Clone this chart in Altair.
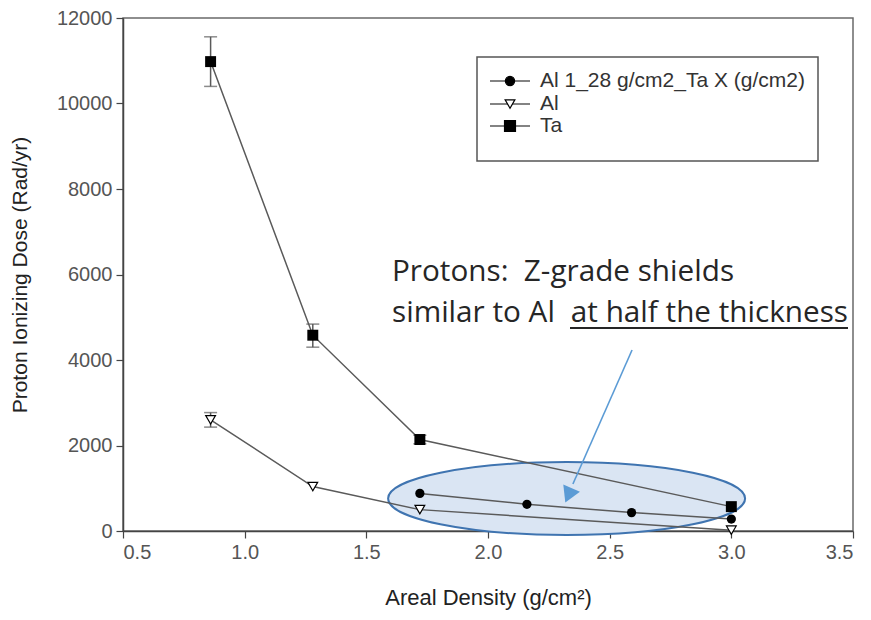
import altair as alt
import pandas as pd

# ---- data ----
series_names = ["Al 1_28 g/cm2_Ta X (g/cm2)", "Al", "Ta"]
alta_x = [1.72, 2.16, 2.59, 3.0]
alta_y = [880, 625, 430, 280]
al_x = [0.86, 1.28, 1.72, 3.0]
al_y = [2600, 1040, 500, 20]
ta_x = [0.86, 1.28, 1.72, 3.0]
ta_y = [10980, 4580, 2140, 570]

# error bars (x, low, high)
err_series = ["Ta", "Ta", "Ta", "Al"]
err_x = [0.86, 1.28, 1.72, 0.86]
err_lo = [10400, 4300, 2040, 2430]
err_hi = [11560, 4840, 2240, 2770]

x_ticks = [0.5, 1.0, 1.5, 2.0, 2.5, 3.0, 3.5]
y_ticks = [0, 2000, 4000, 6000, 8000, 10000, 12000]

# annotation (data coords)
ell_x = [2.323]
ell_y = [760]
arrow_x = [2.592, 2.349]
arrow_y = [4234, 1099]
head_x = [2.335]
head_y = [891]

rows = []
for n, xs_, ys_ in [(series_names[0], alta_x, alta_y), (series_names[1], al_x, al_y), (series_names[2], ta_x, ta_y)]:
    for a, b in zip(xs_, ys_):
        rows.append({"series": n, "x": a, "y": b})
df = pd.DataFrame(rows)
err_df = pd.DataFrame({"series": err_series, "x": err_x, "lo": err_lo, "hi": err_hi})

FONT = "Liberation Sans, Arial"
ANN_FONT = "Open Sans"
ANN_SIZE = 29.7

xs = alt.Scale(domain=[0.5, 3.5], nice=False, zero=False)
ys = alt.Scale(domain=[0, 12000], nice=False)

X = alt.X("x:Q", scale=xs, axis=alt.Axis(values=x_ticks, format=".1f", title="Areal Density (g/cm²)",
                                         titleFontSize=22, titlePadding=25))
Y = alt.Y("y:Q", scale=ys, axis=alt.Axis(values=y_ticks, format="d", title="Proton Ionizing Dose (Rad/yr)",
                                         titleFontSize=21, titlePadding=26))

LINE_C = "#5a5a5a"

lines = alt.Chart(df).mark_line(color=LINE_C, strokeWidth=1.5).encode(
    x=X, y=Y, detail="series:N")

err_rule = alt.Chart(err_df).mark_rule(color=LINE_C, strokeWidth=1.5).encode(
    x=alt.X("x:Q", scale=xs), y=alt.Y("lo:Q", scale=ys), y2="hi:Q")
cap_lo = alt.Chart(err_df).mark_tick(color=LINE_C, thickness=1.5, size=13, orient="horizontal").encode(
    x=alt.X("x:Q", scale=xs), y=alt.Y("lo:Q", scale=ys))
cap_hi = alt.Chart(err_df).mark_tick(color=LINE_C, thickness=1.5, size=13, orient="horizontal").encode(
    x=alt.X("x:Q", scale=xs), y=alt.Y("hi:Q", scale=ys))

pts_alta = alt.Chart(df[df.series == series_names[0]]).mark_point(
    shape="circle", filled=True, color="black", size=85, opacity=1).encode(x=X, y=Y)
pts_al = alt.Chart(df[df.series == "Al"]).mark_point(
    shape="triangle-down", filled=True, fill="white", stroke="black", strokeWidth=1.2, size=95, opacity=1).encode(x=X, y=Y)
pts_ta = alt.Chart(df[df.series == "Ta"]).mark_point(
    shape="square", filled=True, color="black", size=120, opacity=1).encode(x=X, y=Y)

# ellipse highlight
ELL_PATH = "M-1,0A1,0.2045,0,1,1,1,0A1,0.2045,0,1,1,-1,0Z"
ellipse = alt.Chart(pd.DataFrame({"x": ell_x, "y": ell_y})).mark_point(
    shape=ELL_PATH, filled=True, fill="#dae5f3", fillOpacity=1, stroke="#3f74b0",
    strokeWidth=2, strokeOpacity=1, size=357 * 357, opacity=1).encode(
    x=alt.X("x:Q", scale=xs), y=alt.Y("y:Q", scale=ys))

arrow_df = pd.DataFrame({"x": [arrow_x[0]], "y": [arrow_y[0]], "x2": [arrow_x[1]], "y2": [arrow_y[1]]})
arrow = alt.Chart(arrow_df).mark_rule(color="#5b9bd5", strokeWidth=1.6).encode(
    x=alt.X("x:Q", scale=xs), y=alt.Y("y:Q", scale=ys), x2="x2:Q", y2="y2:Q")
head = alt.Chart(pd.DataFrame({"x": head_x, "y": head_y})).mark_point(
    shape="triangle", filled=True, color="#5b9bd5", size=330, angle=203.6, opacity=1).encode(
    x=alt.X("x:Q", scale=xs), y=alt.Y("y:Q", scale=ys))

# legend (manual, pixel layout inside plot area)
one = pd.DataFrame({"a": [0]})
legend_layers = [
    alt.Chart(one).mark_rect(fill="white", stroke="#555555", strokeWidth=1.5).encode(
        x=alt.value(354), x2=alt.value(695), y=alt.value(39), y2=alt.value(143))
]
row_y = [63, 86, 108]
shapes = [("circle", "black", "black", 85), ("triangle-down", "white", "black", 95), ("square", "black", "black", 120)]
for i, name in enumerate(series_names):
    shp, fillc, strokec, sz = shapes[i]
    legend_layers.append(alt.Chart(one).mark_rule(color=LINE_C, strokeWidth=1.5).encode(
        x=alt.value(367), x2=alt.value(407), y=alt.value(row_y[i])))
    legend_layers.append(alt.Chart(one).mark_point(
        shape=shp, filled=True, fill=fillc, stroke=strokec, strokeWidth=1.2, size=sz, opacity=1).encode(
        x=alt.value(387), y=alt.value(row_y[i])))
    legend_layers.append(alt.Chart(pd.DataFrame({"t": [name]})).mark_text(
        align="left", baseline="middle", font=FONT, fontSize=21, color="#333333").encode(
        x=alt.value(417), y=alt.value(row_y[i]), text="t:N"))

# annotation text
ann = [
    alt.Chart(pd.DataFrame({"t": ["Protons:\u00a0 Z-grade shields"]})).mark_text(
        align="left", baseline="alphabetic", font=ANN_FONT, fontSize=ANN_SIZE, color="#262626").encode(
        x=alt.value(269), y=alt.value(263), text="t:N"),
    alt.Chart(pd.DataFrame({"t": ["similar to Al"]})).mark_text(
        align="left", baseline="alphabetic", font=ANN_FONT, fontSize=ANN_SIZE, color="#262626").encode(
        x=alt.value(269), y=alt.value(304), text="t:N"),
    alt.Chart(pd.DataFrame({"t": ["at half the thickness"]})).mark_text(
        align="right", baseline="alphabetic", font=ANN_FONT, fontSize=ANN_SIZE, color="#262626").encode(
        x=alt.value(725), y=alt.value(304), text="t:N"),
    alt.Chart(one).mark_rule(color="#262626", strokeWidth=2.2).encode(
        x=alt.value(447), x2=alt.value(725), y=alt.value(310)),
]

chart = alt.layer(
    ellipse, lines, err_rule, cap_lo, cap_hi, pts_alta, pts_al, pts_ta, arrow, head,
    *legend_layers, *ann
).properties(
    width=730, height=513,
    autosize=alt.AutoSizeParams(type="none"),
    padding={"left": 115, "top": 10, "right": 10, "bottom": 81},
    background="white",
).configure_view(
    stroke="#6a6a6a", strokeWidth=1.5
).configure_axis(
    grid=False, domainColor="#444444", domainWidth=1.5, tickColor="#444444", tickWidth=1.2, tickSize=7,
    labelFont=FONT, labelFontSize=20, labelColor="#555555", labelPadding=4,
    titleFont=FONT, titleFontWeight="normal", titleColor="#222222",
)

chart.save("out.html", embed_options={"renderer": "svg", "actions": False})
